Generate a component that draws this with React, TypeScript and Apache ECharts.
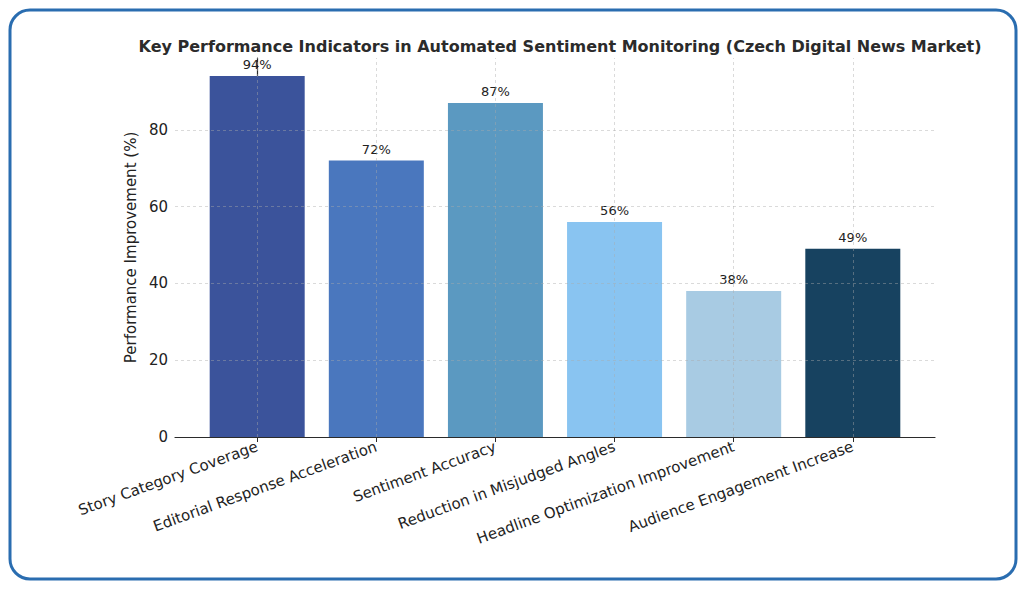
import React, { useEffect, useRef } from "react";
import * as echarts from "echarts";

const categories = [
  "Story Category Coverage",
  "Editorial Response Acceleration",
  "Sentiment Accuracy",
  "Reduction in Misjudged Angles",
  "Headline Optimization Improvement",
  "Audience Engagement Increase",
];
const values = [94, 72, 87, 56, 38, 49];
const barColors = ["#3b539b", "#4a77be", "#5b99c1", "#89c4f1", "#a8cbe3", "#174260"];
const yTicks = [0, 20, 40, 60, 80];
const xPositions = [0, 1, 2, 3, 4, 5];

const FONT = "DejaVu Sans";

export default function App() {
  const ref = useRef<HTMLDivElement>(null);
  useEffect(() => {
    document.body.style.margin = "0";
    const chart = echarts.init(ref.current!, null, { renderer: "svg" });
    const gridStyle = { type: [3, 3] as any, color: "rgba(170,170,170,0.55)", width: 0.8 };
    const markData: any[] = [
      ...yTicks.filter((v) => v > 0).map((v) => ({ yAxis: v })),
      ...xPositions.map((v) => ({ xAxis: v })),
    ];
    chart.setOption({
      animation: false,
      backgroundColor: "#ffffff",
      title: {
        text: "Key Performance Indicators in Automated Sentiment Monitoring (Czech Digital News Market)",
        left: 555,
        top: 33,
        textAlign: "center",
        textStyle: { fontFamily: FONT, fontSize: 16, fontWeight: "bold", color: "#2b2b2b" },
      },
      graphic: [
        {
          type: "rect",
          shape: { x: 10, y: 10, width: 1006, height: 569, r: 20 },
          style: { fill: "none", stroke: "#2a6db0", lineWidth: 3 },
          z: 100,
          silent: true,
        },
      ],
      grid: { left: 175, right: 91, top: 58, bottom: 152, containLabel: false },
      xAxis: {
        type: "value",
        min: -0.69,
        max: 5.69,
        axisLine: { show: true, lineStyle: { color: "#2b2b2b", width: 1.2 } },
        axisTick: { show: true, customValues: xPositions, length: 5, lineStyle: { color: "#2b2b2b" } },
        axisLabel: {
          show: true,
          customValues: xPositions,
          rotate: 20,
          fontFamily: FONT,
          fontSize: 15,
          color: "#222222",
          margin: 9,
          formatter: (v: number) => categories[Math.round(v)] ?? "",
        },
        splitLine: { show: false },
      },
      yAxis: {
        type: "value",
        min: 0,
        max: 98.7,
        name: "Performance Improvement (%)",
        nameLocation: "middle",
        nameGap: 27,
        nameRotate: 90,
        nameTextStyle: { fontFamily: FONT, fontSize: 15, color: "#222222" },
        axisLine: { show: true, lineStyle: { color: "#2b2b2b", width: 1.2 } },
        axisTick: { show: true, customValues: yTicks, length: 5, lineStyle: { color: "#2b2b2b" } },
        axisLabel: {
          customValues: yTicks,
          fontFamily: FONT,
          fontSize: 15,
          color: "#222222",
          margin: 7,
        },
        splitLine: { show: false },
      },
      series: [
        {
          type: "bar",
          barWidth: 95,
          data: values.map((v, i) => ({
            value: [xPositions[i], v],
            itemStyle: { color: barColors[i] },
          })),
          label: {
            show: true,
            position: "top",
            distance: 5,
            fontFamily: FONT,
            fontSize: 13,
            color: "#222222",
            formatter: (p: any) => p.value[1] + "%",
          },
          markLine: {
            silent: true,
            symbol: ["none", "none"],
            label: { show: false },
            lineStyle: gridStyle,
            data: markData,
            z: 10,
          },
        },
      ],
    });
    return () => chart.dispose();
  }, []);
  return (
    <div
      ref={ref}
      style={{ position: "fixed", left: 0, top: 0, width: 1026, height: 589 }}
    />
  );
}
